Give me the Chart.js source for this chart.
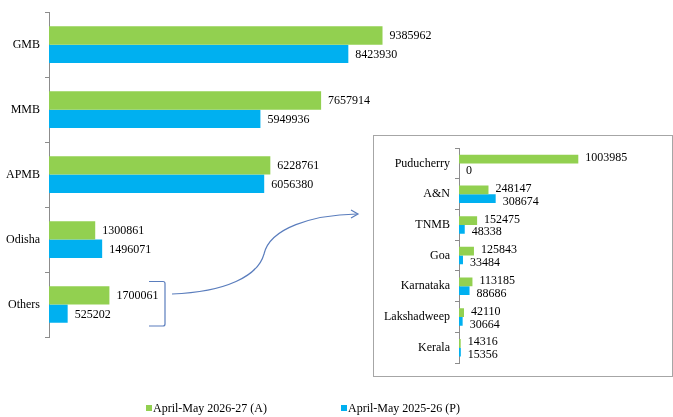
<!DOCTYPE html>
<html>
<head>
<meta charset="utf-8">
<script src="https://cdn.jsdelivr.net/npm/chart.js@4/dist/chart.umd.min.js"></script>
<style>
    html, body { margin: 0; padding: 0; background: #fff; }
    #wrap { position: relative; width: 673px; height: 417px; overflow: hidden; }
    #main-canvas { position: absolute; left: 0; top: 0; }
    #inset { position: absolute; left: 373px; top: 135px; width: 298px; height: 240px; border: 1px solid #a6a6a6; background: #fff; }
    #inset-canvas { position: absolute; left: 0; top: 0; }
    #overlay { position: absolute; left: 0; top: 0; pointer-events: none; }
    .legend-item { position: absolute; top: 401px; font: 12px 'Liberation Serif', 'Times New Roman', serif; color: #000; white-space: nowrap; }
    .legend-item i { display: inline-block; width: 6px; height: 6px; margin-right: 1px; vertical-align: 1px; }
</style>
</head>
<body>
<div id="wrap">
    <canvas id="main-canvas" width="673" height="417"></canvas>
    <svg id="overlay" width="673" height="417">
        <!-- bracket round "Others" -->
        <path d="M149,281.5 L163,281.5 Q165,281.5 165,283.5 L165,324 Q165,326 163,326 L149,326"
              fill="none" stroke="#5a7dbd" stroke-width="1.2"/>
        <!-- curved arrow to the inset -->
        <path d="M172,294 C226,292 258,276 264,254 C270,228 312,215 357,214"
              fill="none" stroke="#5a7dbd" stroke-width="1.2"/>
        <path d="M351,210 L358,214 L351,218" fill="none" stroke="#5a7dbd" stroke-width="1.2"/>
    </svg>
    <div id="inset">
        <canvas id="inset-canvas" width="298" height="240"></canvas>
    </div>
    <div class="legend-item" style="left:146px"><i style="background:#92d050"></i>April-May 2026-27 (A)</div>
    <div class="legend-item" style="left:341px"><i style="background:#00b0f0"></i>April-May 2025-26 (P)</div>
</div>

<script>
// main chart data
const mainCategories = ['GMB', 'MMB', 'APMB', 'Odisha', 'Others'];
const mainCurrent = [9385962, 7657914, 6228761, 1300861, 1700061];   // April-May 2026-27 (A)
const mainPrevious = [8423930, 5949936, 6056380, 1496071, 525202];   // April-May 2025-26 (P)

// inset: breakdown of "Others"
const otherCategories = ['Puducherry', 'A&N', 'TNMB', 'Goa', 'Karnataka', 'Lakshadweep', 'Kerala'];
const otherCurrent = [1003985, 248147, 152475, 125843, 113185, 42110, 14316];
const otherPrevious = [0, 308674, 48338, 33484, 88686, 30664, 15356];

const seriesNames = ['April-May 2026-27 (A)', 'April-May 2025-26 (P)'];

const GREEN = '#92d050';
const BLUE = '#00b0f0';
const AXIS_GREY = '#8c8c8c';
const SERIF = "'Liberation Serif', 'Times New Roman', serif";

Chart.defaults.animation = false;
Chart.defaults.font.family = SERIF;
Chart.defaults.font.size = 12;
Chart.defaults.color = '#000';

// value labels at the end of each bar
function valueLabels(offsets) {
    return {
        id: 'valueLabels',
        afterDatasetsDraw(chart) {
            const ctx = chart.ctx;
            ctx.save();
            ctx.font = '12px ' + SERIF;
            ctx.fillStyle = '#000';
            ctx.textAlign = 'left';
            ctx.textBaseline = 'middle';
            chart.data.datasets.forEach((ds, i) => {
                const meta = chart.getDatasetMeta(i);
                meta.data.forEach((bar, j) => {
                    ctx.fillText(String(ds.data[j]), bar.x + 7, bar.y + offsets[i]);
                });
            });
            ctx.restore();
        }
    };
}

function barOptions(axisWidth, xMax, padding, catPct) {
    return {
        indexAxis: 'y',
        responsive: false,
        layout: { padding: padding },
        datasets: {
            bar: { categoryPercentage: catPct, barPercentage: 1 }
        },
        scales: {
            x: { display: false, min: 0, max: xMax },
            y: {
                afterFit(scale) { scale.width = axisWidth; },
                grid: {
                    drawOnChartArea: false,
                    drawTicks: true,
                    tickLength: 4,
                    color: AXIS_GREY
                },
                border: { color: AXIS_GREY, width: 1 },
                ticks: { padding: 5, color: '#000', font: { size: 12, family: SERIF } }
            }
        },
        plugins: {
            legend: { display: false },
            tooltip: { enabled: false }
        }
    };
}

new Chart(document.getElementById('main-canvas'), {
    type: 'bar',
    data: {
        labels: mainCategories,
        datasets: [
            { label: seriesNames[0], data: mainCurrent, backgroundColor: GREEN },
            { label: seriesNames[1], data: mainPrevious, backgroundColor: BLUE }
        ]
    },
    options: barOptions(49, 15000000, { top: 8, bottom: 80, left: 0, right: 91 }, 0.565),
    plugins: [valueLabels([0, 1])]
});

new Chart(document.getElementById('inset-canvas'), {
    type: 'bar',
    data: {
        labels: otherCategories,
        datasets: [
            { label: seriesNames[0], data: otherCurrent, backgroundColor: GREEN },
            { label: seriesNames[1], data: otherPrevious, backgroundColor: BLUE }
        ]
    },
    options: barOptions(85, 1700000, { top: 4, bottom: 13, left: 0, right: 11 }, 0.57),
    plugins: [valueLabels([-1, 3])]
});
</script>
</body>
</html>
